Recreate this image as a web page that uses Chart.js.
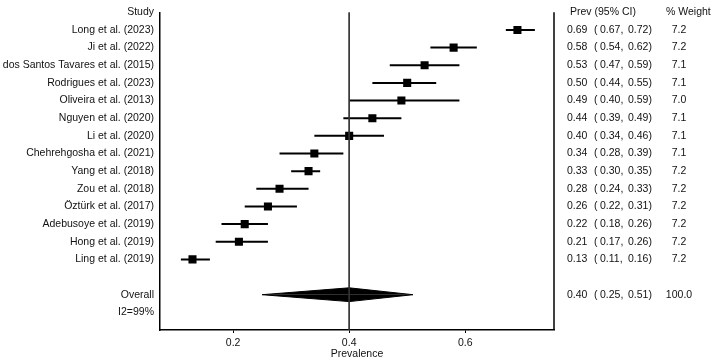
<!DOCTYPE html>
<html>
<head>
<meta charset="utf-8">
<script src="https://cdn.jsdelivr.net/npm/chart.js@4"></script>
<style>
html, body { margin: 0; padding: 0; background: #fff; }
#wrap { width: 711px; height: 360px; }
</style>
</head>
<body>
<div id="wrap"><canvas id="forestChart" width="711" height="360"></canvas></div>
<script>
// study rows, top to bottom
const studies = [
    'Long et al. (2023)', 'Ji et al. (2022)', 'dos Santos Tavares et al. (2015)',
    'Rodrigues et al. (2023)', 'Oliveira et al. (2013)', 'Nguyen et al. (2020)',
    'Li et al. (2020)', 'Chehrehgosha et al. (2021)', 'Yang et al. (2018)',
    'Zou et al. (2018)', 'Öztürk et al. (2017)', 'Adebusoye et al. (2019)',
    'Hong et al. (2019)', 'Ling et al. (2019)'
];
const prev    = [0.69, 0.58, 0.53, 0.50, 0.49, 0.44, 0.40, 0.34, 0.33, 0.28, 0.26, 0.22, 0.21, 0.13];
const ciLow   = [0.67, 0.54, 0.47, 0.44, 0.40, 0.39, 0.34, 0.28, 0.30, 0.24, 0.22, 0.18, 0.17, 0.11];
const ciHigh  = [0.72, 0.62, 0.59, 0.55, 0.59, 0.49, 0.46, 0.39, 0.35, 0.33, 0.31, 0.26, 0.26, 0.16];
const weights = [7.2, 7.2, 7.1, 7.1, 7.0, 7.1, 7.1, 7.1, 7.2, 7.2, 7.2, 7.2, 7.2, 7.2];

const overallPrev = 0.40;
const overallLow = 0.25;
const overallHigh = 0.51;
const overallWeight = 100.0;
const heterogeneity = 'I2=99%';

const xTicks = [0.2, 0.4, 0.6];
const headers = ['Study', 'Prev (95% CI)', '% Weight'];

// row layout: header, studies, blank, overall, I2
const overallRow = studies.length + 2;
const hetRow = overallRow + 1;
const lastRow = hetRow + 1;
const rowLabels = [headers[0], ...studies, '', 'Overall', heterogeneity, ''];

const FONT = { family: '"Liberation Sans", Arial, sans-serif', size: 10.5 };
const diamondHalf = 0.39;

const ciSets = studies.map((s, i) => ({
    type: 'line',
    label: s,
    data: [{ x: ciLow[i], y: i + 1 }, { x: ciHigh[i], y: i + 1 }],
    borderColor: '#000',
    borderWidth: 2,
    pointRadius: 0
}));

// right frame line and the text columns
const columnsPlugin = {
    id: 'columns',
    afterDraw(chart) {
        const { ctx, chartArea, scales: { y } } = chart;
        ctx.save();
        ctx.strokeStyle = '#000';
        ctx.lineWidth = 1.5;
        ctx.beginPath();
        ctx.moveTo(chartArea.right, chartArea.top);
        ctx.lineTo(chartArea.right, chartArea.bottom);
        ctx.stroke();

        ctx.font = FONT.size + 'px ' + FONT.family;
        ctx.fillStyle = '#111';
        ctx.textBaseline = 'middle';
        const ciX = chartArea.right + 13;
        const wX = chartArea.right + 125;

        const ciRow = (p, lo, hi, w, py) => {
            ctx.textAlign = 'left';
            ctx.fillText(p.toFixed(2), ciX, py);
            ctx.fillText('(', ciX + 27, py);
            ctx.fillText(lo.toFixed(2) + ',', ciX + 33, py);
            ctx.fillText(hi.toFixed(2) + ')', ciX + 61, py);
            ctx.textAlign = 'center';
            ctx.fillText(w.toFixed(1), wX, py);
        };

        ctx.textAlign = 'left';
        ctx.fillText(headers[1], ciX + 3, y.getPixelForValue(0));
        ctx.fillText(headers[2], chartArea.right + 112, y.getPixelForValue(0));

        studies.forEach((s, i) => {
            ciRow(prev[i], ciLow[i], ciHigh[i], weights[i], y.getPixelForValue(i + 1));
        });
        ciRow(overallPrev, overallLow, overallHigh, overallWeight, y.getPixelForValue(overallRow));
        ctx.restore();
    }
};

const ctx = document.getElementById('forestChart').getContext('2d');
new Chart(ctx, {
    type: 'scatter',
    data: {
        datasets: [
            {
                type: 'line',
                label: 'reference',
                data: [{ x: overallPrev, y: 0 }, { x: overallPrev, y: lastRow }],
                borderColor: '#333',
                borderWidth: 1,
                pointRadius: 0
            },
            ...ciSets,
            {
                label: 'Prevalence',
                data: prev.map((p, i) => ({ x: p, y: i + 1 })),
                pointStyle: 'rect',
                pointRadius: 5.7,
                backgroundColor: '#000',
                borderColor: '#000',
                borderWidth: 0
            },
            {
                type: 'line',
                label: 'overall upper',
                data: [
                    { x: overallLow, y: overallRow },
                    { x: overallPrev, y: overallRow - diamondHalf },
                    { x: overallHigh, y: overallRow }
                ],
                fill: { value: overallRow },
                backgroundColor: '#000',
                borderColor: '#000',
                borderWidth: 1,
                pointRadius: 0
            },
            {
                type: 'line',
                label: 'overall lower',
                data: [
                    { x: overallLow, y: overallRow },
                    { x: overallPrev, y: overallRow + diamondHalf },
                    { x: overallHigh, y: overallRow }
                ],
                fill: { value: overallRow },
                backgroundColor: '#000',
                borderColor: '#000',
                borderWidth: 1,
                pointRadius: 0
            }
        ]
    },
    options: {
        responsive: false,
        animation: false,
        layout: { padding: { left: 0, right: 157, top: 5, bottom: 0 } },
        plugins: {
            legend: { display: false },
            tooltip: { enabled: false }
        },
        scales: {
            x: {
                type: 'linear',
                min: 0.074,
                max: 0.753,
                afterBuildTicks: (s) => { s.ticks = xTicks.map(v => ({ value: v })); },
                afterFit: (s) => { s.height = 30; },
                ticks: {
                    callback: (v) => v.toFixed(1),
                    font: FONT,
                    color: '#111',
                    padding: 4,
                    maxRotation: 0
                },
                grid: { display: true, drawOnChartArea: false, tickLength: 3, color: '#000' },
                border: { display: true, color: '#000', width: 1.5 },
                title: { display: true, text: 'Prevalence', font: FONT, color: '#111', padding: 0 }
            },
            y: {
                type: 'linear',
                reverse: true,
                min: 0,
                max: lastRow,
                afterFit: (s) => { s.width = 160; },
                ticks: {
                    stepSize: 1,
                    autoSkip: false,
                    callback: (v) => rowLabels[v] ?? '',
                    font: FONT,
                    color: '#111',
                    padding: 6
                },
                grid: { display: false, drawTicks: false },
                border: { display: true, color: '#000', width: 1.5 }
            }
        }
    },
    plugins: [columnsPlugin]
});
</script>
</body>
</html>
